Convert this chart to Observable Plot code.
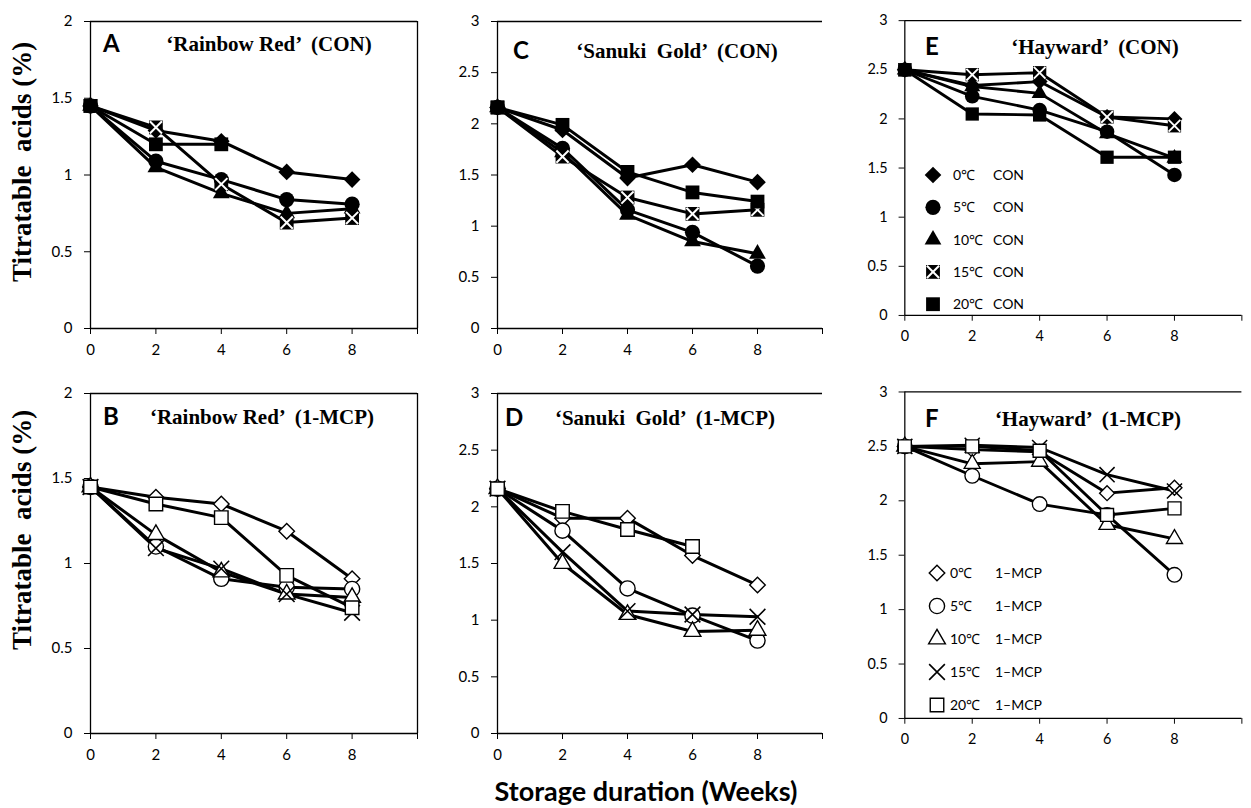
<!DOCTYPE html>
<html><head><meta charset="utf-8">
<script src="https://cdn.jsdelivr.net/npm/d3@7"></script>
<script src="https://cdn.jsdelivr.net/npm/@observablehq/plot@0.6"></script>
<style>
body{margin:0;background:#fff}
#fig{position:relative;width:1251px;height:808px;overflow:hidden;background:#fff}
.panel{position:absolute}
#overlay{position:absolute;left:0;top:0;pointer-events:none}
</style></head><body><div id="fig"></div>
<script>
// ---- data ----
const weeks = [0, 2, 4, 6, 8];
const temps = ["0℃", "5℃", "10℃", "15℃", "20℃"];
const xTicks = [0, 2, 4, 6, 8, 10];
const yTicks2 = [0, 0.5, 1, 1.5, 2];
const yTicks3 = [0, 0.5, 1, 1.5, 2, 2.5, 3];
// rows: 0℃, 5℃, 10℃, 15℃, 20℃ ; columns: weeks ; null = not measured
const rainbowRedCON = [
  [1.45, 1.29, 1.22, 1.02, 0.97],
  [1.45, 1.09, 0.97, 0.84, 0.81],
  [1.45, 1.05, 0.88, 0.75, 0.78],
  [1.45, 1.31, 0.94, 0.69, 0.72],
  [1.45, 1.20, 1.20, null, null]
];
const rainbowRedMCP = [
  [1.45, 1.39, 1.35, 1.19, 0.91],
  [1.45, 1.10, 0.91, 0.86, 0.85],
  [1.45, 1.17, 0.95, 0.82, 0.80],
  [1.45, 1.09, 0.97, 0.82, 0.71],
  [1.45, 1.35, 1.27, 0.93, 0.74]
];
const sanukiGoldCON = [
  [2.16, 1.94, 1.47, 1.60, 1.43],
  [2.16, 1.76, 1.16, 0.94, 0.61],
  [2.16, 1.72, 1.11, 0.85, 0.73],
  [2.16, 1.68, 1.28, 1.12, 1.16],
  [2.16, 1.99, 1.53, 1.33, 1.24]
];
const sanukiGoldMCP = [
  [2.16, 1.90, 1.90, 1.57, 1.31],
  [2.16, 1.79, 1.28, 1.04, 0.82],
  [2.16, 1.50, 1.05, 0.90, 0.91],
  [2.16, 1.60, 1.08, 1.05, 1.03],
  [2.16, 1.96, 1.80, 1.65, null]
];
const haywardCON = [
  [2.50, 2.34, 2.38, 2.02, 2.00],
  [2.50, 2.23, 2.09, 1.87, 1.43],
  [2.50, 2.33, 2.26, 1.85, 1.60],
  [2.50, 2.45, 2.47, 2.02, 1.93],
  [2.50, 2.05, 2.04, 1.61, 1.61]
];
const haywardMCP = [
  [2.50, 2.47, 2.45, 2.07, 2.12],
  [2.50, 2.23, 1.97, 1.87, 1.32],
  [2.50, 2.34, 2.36, 1.78, 1.65],
  [2.50, 2.51, 2.49, 2.24, 2.09],
  [2.50, 2.50, 2.46, 1.87, 1.93]
];
const panelLetters = ["A", "B", "C", "D", "E", "F"];
const panelTitles = ["‘Rainbow Red’  (CON)", "‘Rainbow Red’  (1-MCP)", "‘Sanuki  Gold’  (CON)", "‘Sanuki  Gold’  (1-MCP)", "‘Hayward’  (CON)", "‘Hayward’  (1-MCP)"];
const yTitle = "Titratable  acids (%)";
const xTitle = "Storage duration (Weeks)";

// ---- marker styles ----
const conSym = [
  {symbol: "diamond2", r: 7.5, fill: "black"},
  {symbol: "circle", r: 7.6, fill: "black"},
  {symbol: "triangle2", r: 8, fill: "black"},
  {symbol: "square2", r: 8.8, fill: "black", inner: {symbol: "times", r: 5.6, stroke: "white", sw: 2}},
  {symbol: "square2", r: 8.8, fill: "black"}
];
const mcpSym = [
  {symbol: "diamond2", r: 7, fill: "white", stroke: "black", sw: 1.4},
  {symbol: "circle", r: 7.6, fill: "white", stroke: "black", sw: 1.4},
  {symbol: "triangle2", r: 8, fill: "white", stroke: "black", sw: 1.4},
  {symbol: "times", r: 7.2, fill: "none", stroke: "black", sw: 1.6},
  {symbol: "square2", r: 8.6, fill: "white", stroke: "black", sw: 1.4}
];

const cols = [
  {left: 0, width: 440, ml: 90, mr: 23, rightBorder: true},
  {left: 420, width: 420, ml: 77, mr: 18, rightBorder: false},
  {left: 840, width: 428, ml: 67, mr: 10, rightBorder: false}
];
const rows = [
  {top: 0, height: 370, mt: 21, mb: 42},
  {top: 355, height: 420, mt: 38, mb: 42}
];

const panels = [
  {data: rainbowRedCON, col: 0, row: 0, ymax: 2, yt: yTicks2, sym: conSym},
  {data: rainbowRedMCP, col: 0, row: 1, ymax: 2, yt: yTicks2, sym: mcpSym},
  {data: sanukiGoldCON, col: 1, row: 0, ymax: 3, yt: yTicks3, sym: conSym},
  {data: sanukiGoldMCP, col: 1, row: 1, ymax: 3, yt: yTicks3, sym: mcpSym},
  {data: haywardCON, col: 2, row: 0, ymax: 3, yt: yTicks3, sym: conSym},
  {data: haywardMCP, col: 2, row: 1, ymax: 3, yt: yTicks3, sym: mcpSym}
];

const fig = document.getElementById("fig");

function dotMark(d, s) {
  return Plot.dot(d, {x: "week", y: "value", symbol: s.symbol, r: s.r,
    fill: s.fill, stroke: s.stroke || "none", strokeWidth: s.sw || 1});
}

panels.forEach(p => {
  const c = cols[p.col], r = rows[p.row];
  const table = [];
  p.data.forEach((vals, i) => vals.forEach((v, j) => {
    if (v != null) table.push({series: i, temp: temps[i], week: weeks[j], value: v});
  }));
  const marks = [
    Plot.ruleY([0], {stroke: "black", strokeWidth: 1.3}),
    Plot.ruleY([p.ymax], {stroke: "black", strokeWidth: 1.3}),
    Plot.ruleX([0], {stroke: "black", strokeWidth: 1.3})
  ];
  if (c.rightBorder) marks.push(Plot.ruleX([10], {stroke: "black", strokeWidth: 1.3}));
  for (let i = 0; i < 5; i++) {
    const d = table.filter(t => t.series === i);
    marks.push(Plot.line(d, {x: "week", y: "value", stroke: "black", strokeWidth: 3, strokeLinejoin: "round"}));
  }
  for (let i = 0; i < 5; i++) {
    const d = table.filter(t => t.series === i);
    const s = p.sym[i];
    marks.push(dotMark(d, s));
    if (s.inner) marks.push(dotMark(d, s.inner));
  }
  const svg = Plot.plot({
    width: c.width, height: r.height,
    marginLeft: c.ml, marginRight: c.mr, marginTop: r.mt, marginBottom: r.mb,
    style: {fontFamily: "Lato, 'Open Sans', sans-serif", fontSize: "15px", color: "black", background: "none", overflow: "visible"},
    x: {domain: [0, 10], ticks: xTicks, tickFormat: d => d === 10 ? "" : String(d), tickSize: 6, tickPadding: 10, label: null},
    y: {domain: [0, p.ymax], ticks: p.yt, tickFormat: d => String(d), tickSize: 6, tickPadding: 12, label: null},
    marks
  });
  const wrap = document.createElement("div");
  wrap.className = "panel";
  wrap.style.left = c.left + "px";
  wrap.style.top = r.top + "px";
  wrap.appendChild(svg);
  fig.appendChild(wrap);
});

// ---- overlay: panel titles, axis titles, legends ----
const ov = d3.select(fig).append("svg").attr("id", "overlay").attr("width", 1251).attr("height", 808);
const letterPos = [[103, 52], [103, 425], [513, 59], [505, 426], [925, 55], [925, 427]];
const titlePos = [[269, 51], [262, 424], [677, 58], [665, 425], [1095, 54], [1088, 426]];
panelLetters.forEach((L, k) => {
  ov.append("text").attr("x", letterPos[k][0]).attr("y", letterPos[k][1])
    .attr("font-family", "Lato, 'Open Sans', sans-serif").attr("font-weight", "bold").attr("font-size", 24).text(L);
  ov.append("text").attr("x", titlePos[k][0]).attr("y", titlePos[k][1]).attr("text-anchor", "middle")
    .style("white-space", "pre")
    .attr("font-family", "'Liberation Serif', 'Times New Roman', serif").attr("font-weight", "bold").attr("font-size", 21).text(panelTitles[k]);
});
[162, 530].forEach(cy => {
  ov.append("text").attr("transform", `translate(31,${cy}) rotate(-90)`).attr("text-anchor", "middle")
    .style("white-space", "pre")
    .attr("font-family", "'Liberation Serif', 'Times New Roman', serif").attr("font-weight", "bold").attr("font-size", 27).text(yTitle);
});
ov.append("text").attr("x", 646).attr("y", 801).attr("text-anchor", "middle")
  .attr("font-family", "Lato, 'Open Sans', sans-serif").attr("font-weight", "bold").attr("font-size", 27).text(xTitle);

const symMap = {diamond2: d3.symbolDiamond2, circle: d3.symbolCircle, triangle2: d3.symbolTriangle2, square2: d3.symbolSquare2, times: d3.symbolTimes};
function drawSym(g, s, x, y) {
  g.append("path").attr("transform", `translate(${x},${y})`)
    .attr("d", d3.symbol(symMap[s.symbol], Math.PI * s.r * s.r)())
    .attr("fill", s.fill).attr("stroke", s.stroke || "none").attr("stroke-width", s.sw || 1);
  if (s.inner) drawSym(g, s.inner, x, y);
}
const legends = [
  {sym: conSym, x: 933, y0: 175, dy: 32.3, tx: 953, sx: 993, suffix: "CON"},
  {sym: mcpSym, x: 937, y0: 573, dy: 33, tx: 950, sx: 995, suffix: "1–MCP"}
];
legends.forEach(L => {
  temps.forEach((t, i) => {
    const y = L.y0 + i * L.dy;
    drawSym(ov, L.sym[i], L.x, y);
    ov.append("text").attr("x", L.tx).attr("y", y + 5).attr("font-family", "Lato, 'Open Sans', sans-serif").attr("font-size", 14).text(t);
    ov.append("text").attr("x", L.sx).attr("y", y + 5).attr("font-family", "Lato, 'Open Sans', sans-serif").attr("font-size", 14).text(L.suffix);
  });
});
</script></body></html>
